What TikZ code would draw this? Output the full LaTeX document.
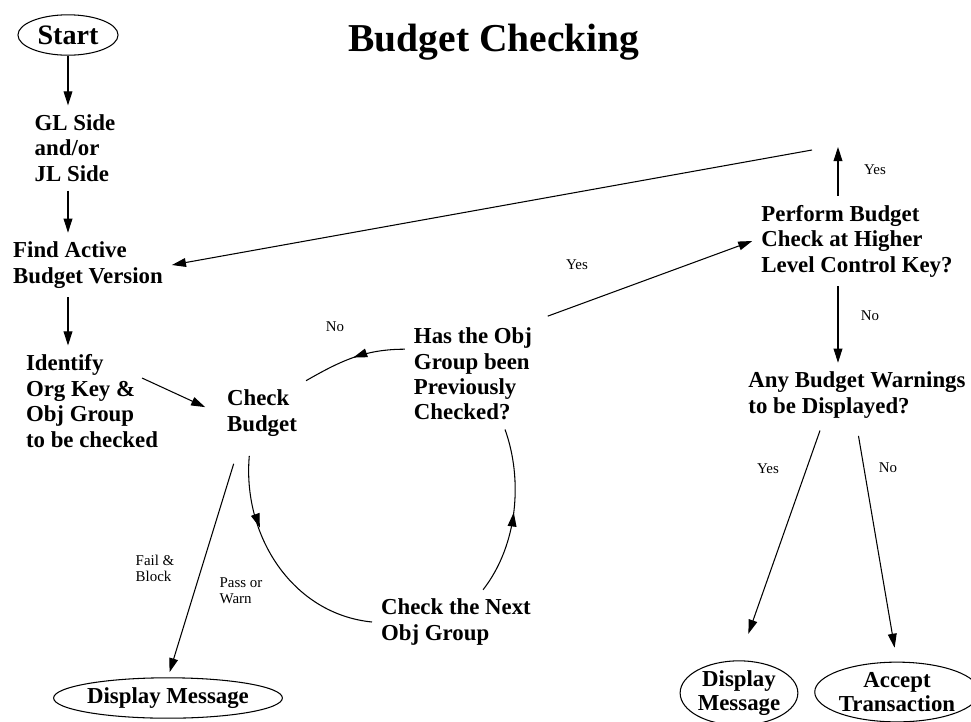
\documentclass[tikz,border=0pt]{standalone}
\usepackage{fontspec}
\setmainfont{Liberation Serif}
\usetikzlibrary{arrows.meta,shapes.geometric,decorations.markings}
\tikzstyle{stepnode}=[align=left,inner sep=5pt,font=\bfseries\fontsize{13}{14.5}\selectfont]
\tikzstyle{terminal}=[ellipse,draw,line width=0.6pt,inner sep=0pt,align=center,font=\bfseries\fontsize{13}{14}\selectfont]
\tikzstyle{flow} = [draw,line width=0.6pt,-{Triangle[length=8pt,width=5pt]}]
\tikzstyle{plainflow} = [draw,line width=0.6pt]
\tikzstyle{answer} = [align=left,inner sep=0pt,font=\fontsize{8.5}{9}\selectfont]
\tikzset{midtip/.style={postaction={decorate},decoration={markings,mark=at position #1 with {\arrow{Triangle[length=8pt,width=5pt]}}}}}

\begin{document}
\begin{tikzpicture}[x=0.02cm,y=-0.02cm]
\useasboundingbox (0,0) rectangle (971,721);

% Title
\node[font=\bfseries\fontsize{22.5}{26}\selectfont] (title) at (494,42) {Budget Checking};

% Start / end ellipses
\node[terminal,minimum width=57pt,minimum height=23pt,font=\bfseries\fontsize{16}{18}\selectfont] (start) at (68,35) {Start};
\node[terminal,minimum width=119pt,minimum height=23pt] (dm1) at (168,698) {Display Message};
\node[terminal,minimum width=67pt,minimum height=32pt] (dm2) at (739,693) {Display\\Message};
\node[terminal,minimum width=85pt,minimum height=34pt] (accept) at (897,692) {Accept\\Transaction};

% Steps
\foreach \pos/\name/\txt in {{(75,148)/gl/{GL Side\\and/or\\JL Side}},
    {(88,265)/find/{Find Active\\Budget Version}},
    {(92,401)/identify/{Identify\\Org Key \&\\Obj Group\\to be checked}},
    {(262,413)/check/{Check\\Budget}},
    {(473,374)/has/{Has the Obj\\Group been\\Previously\\Checked?}},
    {(857,241)/perform/{Perform Budget\\Check at Higher\\Level Control Key?}},
    {(857,395)/any/{Any Budget Warnings\\to be Displayed?}},
    {(456,622)/next/{Check the Next\\Obj Group}}}
    \node[stepnode] (\name) at \pos {\txt};

% free ends
\coordinate (idout) at (142,378);
\coordinate (yestop) at (838,147);
\coordinate (yesleft) at (812,150);

% Left column
\path[flow] (start.south) -- (start.south |- gl.north);
\path[flow] (gl.south -| start) -- (find.north -| start);
\path[flow] (find.south -| start) -- (identify.north -| start);
\path[flow, shorten >=8pt] (idout) -- (check.west);

% Loop
\path[plainflow, midtip=0.5] (has.160) .. controls +(-40,0) and +(35,-20) .. (check.north east);
\path[plainflow, midtip=0.35, shorten <=6pt] (check.250) .. controls +(-8,90) and +(-80,-8) .. (next.west);
\path[plainflow, midtip=0.5] (next.50) .. controls +(35,-45) and +(18,50) .. (has.-60);
\path[flow, shorten <=11pt, shorten >=3pt] (check.235) -- (dm1.north);

% Higher level
\path[flow, shorten <=4pt] (has.north east) -- (perform.west);
\path[flow] (perform.north -| yestop) -- (yestop);
\path[flow] (yesleft) -- (find.east);
\path[flow] (perform.south -| yestop) -- (any.north -| yestop);
\path[flow, shorten <=2pt, shorten >=16pt] (any.222) -- (dm2.north);
\path[flow, shorten <=5pt, shorten >=8pt] (any.south) -- (accept.north);

% Labels
\node[answer] (lno1) at (335,327) {No};
\node[answer] (lyes1) at (577,265) {Yes};
\node[answer] (lyes2) at (875,170) {Yes};
\node[answer] (lno2) at (870,316) {No};
\node[answer] (lfail) at (155,568) {Fail \&\\Block};
\node[answer] (lpass) at (241,591) {Pass or\\Warn};
\node[answer] (lyes3) at (768,469) {Yes};
\node[answer] (lno3) at (888,468) {No};

\end{tikzpicture}
\end{document}
